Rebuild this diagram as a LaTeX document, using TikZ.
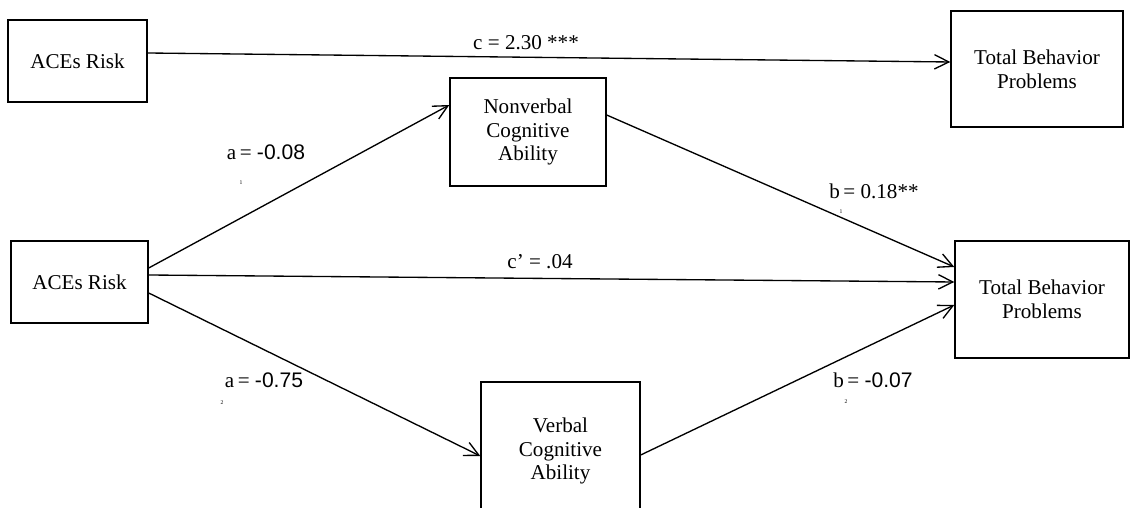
\documentclass[tikz,border=0pt]{standalone}
\usepackage{fontspec}
\setmainfont{Liberation Serif}
\newfontfamily\numsans{Liberation Sans}
\usetikzlibrary{arrows.meta}

\begin{document}
\begin{tikzpicture}[
        font=\fontsize{15}{17}\selectfont,
        var/.style={draw=black, line width=1pt, align=center, inner sep=2pt},
        path/.style={line width=0.95pt, -{Straight Barb[length=3.6mm, width=3.6mm, line width=0.95pt]}},
        coef/.style={inner sep=0pt},
        sub/.style={inner sep=0pt, font=\fontsize{4}{4}\selectfont},
    ]
    \useasboundingbox (0,0) rectangle (28.25,12.7);
    \clip (0,0) rectangle (28.25,12.7);

    %====================== EFEITO TOTAL (topo) ======================
    \node[var, minimum width=3.475cm, minimum height=2.05cm] (ace-top) at (1.9375, 11.175) {ACEs Risk};
    \node[var, minimum width=4.3cm, minimum height=2.9cm] (tbp-top) at (25.925, 10.975) {Total Behavior\\Problems};

    \draw[path] ([yshift=0.2cm]ace-top.east) -- ([yshift=0.175cm]tbp-top.west);
    \node[coef] (c-tot) at (13.15, 11.625) {c = 2.30 ***};

    %====================== MEDIAÇÃO (baixo) ======================
    \node[var, minimum width=3.425cm, minimum height=2.05cm] (ace-med) at (1.9875, 5.65) {ACEs Risk};
    \node[var, minimum width=3.9cm, minimum height=2.7cm] (nonverb) at (13.2, 9.4) {Nonverbal\\Cognitive\\Ability};
    \node[var, minimum width=3.975cm, minimum height=3.45cm] (verb) at (14.0125, 1.425) {Verbal\\Cognitive\\Ability};
    \node[var, minimum width=4.35cm, minimum height=2.925cm] (tbp-med) at (26.05, 5.2125) {Total Behavior\\Problems};

    \draw[path] ([yshift=0.35cm]ace-med.east) -- ([yshift=0.675cm]nonverb.west);
    \draw[path] ([yshift=0.175cm]ace-med.east) -- ([yshift=0.4375cm]tbp-med.west);
    \draw[path] ([yshift=-0.275cm]ace-med.east) -- ([yshift=-0.125cm]verb.west);
    \draw[path] ([yshift=0.425cm]nonverb.east) -- ([yshift=0.8125cm]tbp-med.west);
    \draw[path] ([yshift=-0.1cm]verb.east) -- ([yshift=-0.1375cm]tbp-med.west);

    \node[coef] (a1) at (6.65, 8.9) {a\thinspace= {\numsans -0.08}};
    \node[sub] (a1-sub) at (6.025, 8.125) {1};
    \node[coef] (b1) at (21.85, 7.925) {b\thinspace= 0.18**};
    \node[sub] (b1-sub) at (21.025, 7.4) {1};
    \node[coef] (c-dir) at (13.5, 6.15) {c’ = .04};
    \node[coef] (a2) at (6.6, 3.2) {a\thinspace= {\numsans -0.75}};
    \node[sub] (a2-sub) at (5.55, 2.625) {2};
    \node[coef] (b2) at (21.825, 3.2) {b\thinspace= {\numsans -0.07}};
    \node[sub] (b2-sub) at (21.15, 2.65) {2};

\end{tikzpicture}
\end{document}
